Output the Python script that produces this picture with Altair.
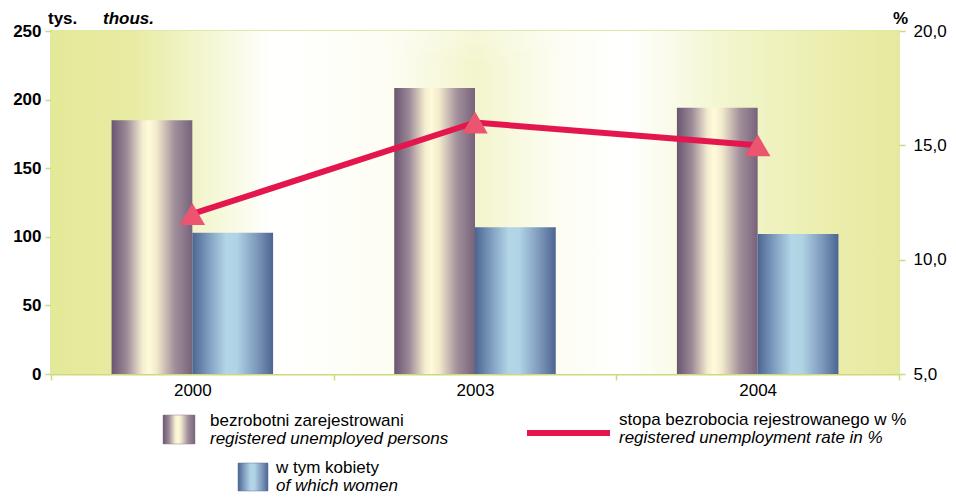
import altair as alt
import pandas as pd

# ---- data ----
years = ["2000", "2003", "2004"]
registered = [185.0, 208.5, 194.0]      # thousands
women = [103.0, 107.0, 102.0]           # thousands
rate = [12.0, 16.0, 15.0]               # %
series_keys = ["registered", "women"]

bars_df = pd.DataFrame({
    "year": years * 2,
    "series": ["registered"] * 3 + ["women"] * 3,
    "value": registered + women,
})
rate_df = pd.DataFrame({"year": years, "rate": rate})
one = pd.DataFrame({"k": [0]})

FONT = "Liberation Sans"
W, H = 848, 343
GRID = "#cdd97c"
RED = "#e3174d"
TRI = "#ec5570"
LEG = 17


def stops(pairs):
    return [alt.GradientStop(offset=o, color=c) for o, c in pairs]


grad_maroon = alt.Gradient(gradient="linear", x1=0, x2=1, y1=0, y2=0, stops=stops([
    (0, "#6a566f"), (0.18, "#9a8796"), (0.38, "#f4ecd0"), (0.46, "#fffbd9"),
    (0.56, "#f2e9cc"), (0.78, "#a28f9b"), (1, "#76637b")]))
grad_blue = alt.Gradient(gradient="linear", x1=0, x2=1, y1=0, y2=0, stops=stops([
    (0, "#4c6592"), (0.2, "#7f9dbf"), (0.42, "#b3d6e7"), (0.55, "#b0d3e5"),
    (0.8, "#7d98bb"), (1, "#4c6592")]))
grad_bg = alt.Gradient(gradient="linear", x1=0, x2=1, y1=0, y2=0, stops=stops([
    (0, "#e4e998"), (0.1, "#e8eca4"), (0.18, "#f3f6cf"), (0.26, "#ffffff"),
    (0.4, "#fdfdf3"), (0.5, "#f3f5cc"), (0.6, "#fdfdf3"), (0.68, "#ffffff"),
    (0.8, "#f2f5cc"), (0.92, "#ebeeac"), (1, "#e6ea9e")]))
grad_top = alt.Gradient(gradient="radial", x1=0.5, y1=0.0, r1=0, x2=0.5, y2=0.0, r2=0.34,
                        stops=stops([(0, "rgba(255,255,255,1)"), (0.55, "rgba(255,255,255,0.9)"),
                                     (1, "rgba(255,255,255,0)")]))

x_enc = alt.X("year:N", sort=years,
              scale=alt.Scale(domain=years, paddingInner=0, paddingOuter=0),
              axis=alt.Axis(title=None, labelAngle=0, tickBand="extent", tickSize=6,
                            tickColor=GRID, tickWidth=1.5, domainColor=GRID, domainWidth=2,
                            labelFontSize=17, labelFont=FONT, labelColor="#000",
                            labelPadding=2))
x_off = alt.XOffset("series:N", scale=alt.Scale(domain=series_keys, paddingInner=0, paddingOuter=0.75))

y_left = alt.Y("value:Q", scale=alt.Scale(domain=[0, 250], nice=False),
               axis=alt.Axis(orient="left", title=None, values=[0, 50, 100, 150, 200, 250],
                             grid=False, domain=False, tickColor=GRID, tickSize=6, tickWidth=1.5,
                             labelFontSize=17, labelFontWeight="bold", labelFont=FONT,
                             labelColor="#000", labelPadding=4))
y_right = alt.Y("rate:Q", scale=alt.Scale(domain=[5, 20], nice=False),
                axis=alt.Axis(orient="right", title=None, values=[5, 10, 15, 20],
                              labelExpr="replace(format(datum.value, '.1f'), '.', ',')",
                              grid=False, domain=False, tickColor=GRID, tickSize=6, tickWidth=1.5,
                              labelFontSize=17, labelFont=FONT, labelColor="#000", labelPadding=8))

background = alt.Chart(one).mark_rect(fill=grad_bg).encode(
    x=alt.value(0), x2=alt.value(W), y=alt.value(0), y2=alt.value(H))
top_glow = alt.Chart(one).mark_rect(fill=grad_top).encode(
    x=alt.value(0), x2=alt.value(W), y=alt.value(0), y2=alt.value(H))

bar_reg = alt.Chart(bars_df).transform_filter(alt.datum.series == "registered").mark_bar(
    fill=grad_maroon).encode(x=x_enc, xOffset=x_off, y=y_left)
bar_wom = alt.Chart(bars_df).transform_filter(alt.datum.series == "women").mark_bar(
    fill=grad_blue).encode(x=x_enc, xOffset=x_off, y=y_left)
bars = alt.layer(bar_reg, bar_wom)

line = alt.Chart(rate_df).mark_line(color=RED, strokeWidth=6).encode(x=x_enc, y=y_right)
tri = alt.Chart(rate_df).mark_point(shape="triangle-up", filled=True, size=650,
                                    color=TRI, opacity=1).encode(x=x_enc, y=y_right)
rates = alt.layer(line, tri)


def label(txt, x, y, size=LEG, weight="normal", style="normal", align="left"):
    return alt.Chart(one).mark_text(align=align, baseline="alphabetic", font=FONT,
                                    fontSize=size, fontWeight=weight, fontStyle=style,
                                    color="#000").encode(
        x=alt.value(x), y=alt.value(y), text=alt.value(txt))


deco = [
    label("tys.", -3, -7, size=17, weight="bold"),
    label("thous.", 52, -7, size=17, weight="bold", style="italic"),
    label("%", 842, -7, size=17, weight="bold"),
    alt.Chart(one).mark_rect(fill=grad_maroon, stroke="#8c7a88", strokeWidth=0.5).encode(
        x=alt.value(112), x2=alt.value(144), y=alt.value(384), y2=alt.value(413)),
    label("bezrobotni zarejestrowani", 159, 395),
    label("registered unemployed persons", 159, 413, style="italic"),
    alt.Chart(one).mark_rule(color=RED, strokeWidth=6).encode(
        x=alt.value(476), x2=alt.value(559), y=alt.value(402)),
    label("stopa bezrobocia rejestrowanego w %", 568, 394),
    label("registered unemployment rate in %", 568, 412, style="italic"),
    alt.Chart(one).mark_rect(fill=grad_blue, stroke="#5a7198", strokeWidth=0.5).encode(
        x=alt.value(187), x2=alt.value(217), y=alt.value(432), y2=alt.value(460)),
    label("w tym kobiety", 225, 442),
    label("of which women", 225, 460, style="italic"),
]

chart = alt.layer(background, top_glow, bars, rates, *deco).resolve_scale(
    y="independent"
).properties(
    width=W, height=H,
    autosize=alt.AutoSizeParams(type="none"),
    padding={"left": 43, "top": 23, "right": 49, "bottom": 122},
    background="white",
).configure_view(stroke="#d8e18e", strokeWidth=1.5)

chart.save("out.html", embed_options={"renderer": "svg", "actions": False})
